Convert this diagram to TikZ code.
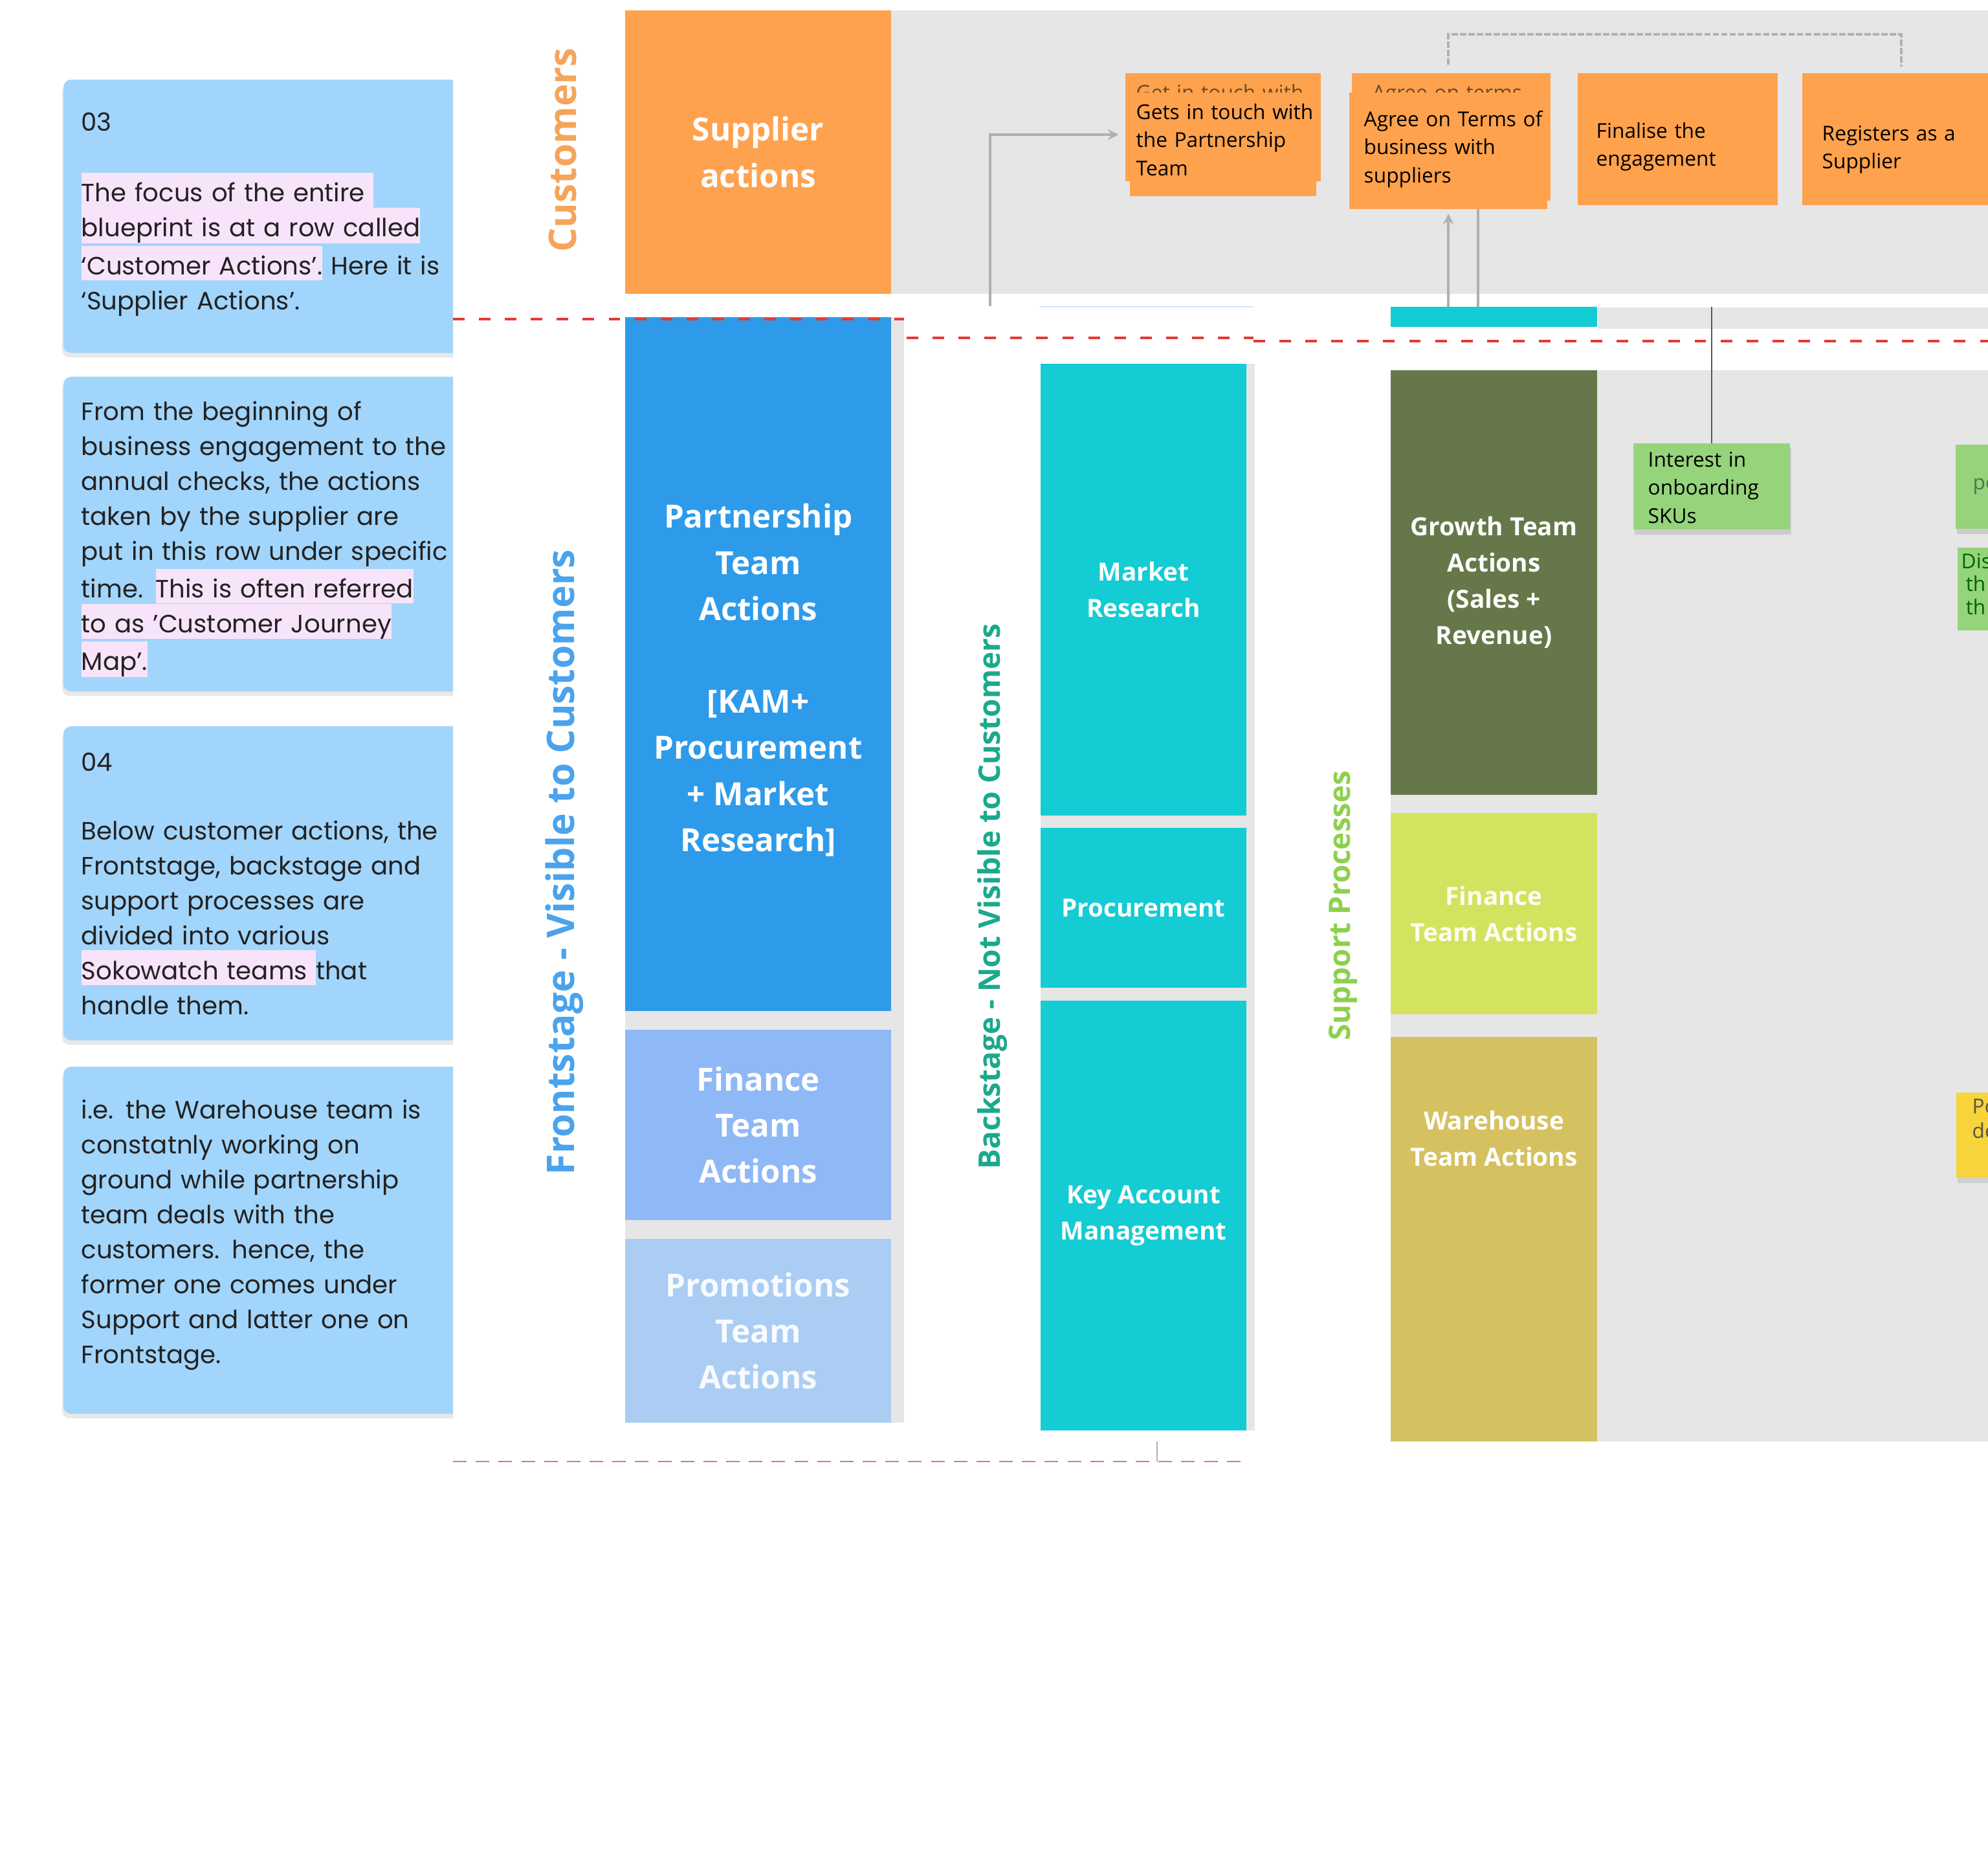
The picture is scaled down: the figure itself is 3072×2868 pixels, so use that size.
\documentclass[tikz,border=0pt]{standalone}
\usepackage{fontspec}
\setmainfont{Open Sans}
\newfontfamily\notefont{Poppins}
\usetikzlibrary{arrows.meta,positioning,calc,shadows}

\definecolor{bandgray}{HTML}{E6E6E6}
\definecolor{supplierorange}{HTML}{FFA24F}
\definecolor{partnerblue}{HTML}{2E9BEA}
\definecolor{financeblue}{HTML}{8FB8F6}
\definecolor{promoblue}{HTML}{ABCDF4}
\definecolor{backteal}{HTML}{14CCD3}
\definecolor{growthgreen}{HTML}{667849}
\definecolor{financelime}{HTML}{D4E35F}
\definecolor{warehousegold}{HTML}{D5C160}
\definecolor{stickyorange}{HTML}{FFA24D}
\definecolor{stickygreen}{HTML}{95D47B}
\definecolor{stickyyellow}{HTML}{F7D43B}
\definecolor{noteblue}{HTML}{A2D5FB}
\definecolor{hlpink}{HTML}{F8E4FA}
\definecolor{notetextcol}{HTML}{222222}
\definecolor{custorange}{HTML}{F5A55B}
\definecolor{frontblue}{HTML}{4AA3EC}
\definecolor{backgreen}{HTML}{1BA98D}
\definecolor{supportgreen}{HTML}{8DD04F}
\definecolor{dashred}{HTML}{E53935}
\definecolor{dashredlight}{HTML}{E57373}
\definecolor{linkgray}{HTML}{B0B0B0}
\definecolor{darklinkgray}{HTML}{5A5A5A}
\definecolor{ghostbrown}{HTML}{6B4A2A}
\definecolor{laneline}{HTML}{D4E3F8}

\newcommand{\hl}[1]{{\setlength{\fboxsep}{0pt}\colorbox{hlpink}{\rule[-2.55pt]{0pt}{15.3pt}#1}}}

\begin{document}
\begin{tikzpicture}[x=0.01cm,y=-0.01cm,>=stealth]
    \tikzstyle{note} = [anchor=north west, fill=noteblue, rounded corners=0.12cm, minimum width=6.5cm, inner sep=0pt, outer sep=0pt, drop shadow={shadow xshift=-0.02cm, shadow yshift=-0.07cm, opacity=0.18}]
    \tikzstyle{notetext} = [anchor=base west, inner sep=0pt, align=left, text width=6.6cm, text=notetextcol, font=\notefont\fontsize{11}{15.36}\selectfont]
    \tikzstyle{lane} = [anchor=north west, inner sep=0pt, outer sep=0pt, align=center, text=white, minimum width=4.11cm, font=\bfseries\fontsize{14}{20.3}\selectfont]
    \tikzstyle{backlane} = [lane, minimum width=3.18cm, fill=backteal, font=\bfseries\fontsize{11}{15.9}\selectfont]
    \tikzstyle{supportlane} = [lane, minimum width=3.19cm, font=\bfseries\fontsize{11}{15.9}\selectfont]
    \tikzstyle{sticky} = [anchor=north west, inner sep=0pt, outer sep=0pt, fill=stickyorange]
    \tikzstyle{stickytext} = [anchor=base west, inner sep=0pt, align=left, text width=3cm, font=\fontsize{9}{12.4}\selectfont]
    \tikzstyle{lanetitle} = [rotate=90, inner sep=0pt, font=\bfseries\fontsize{16.7}{20}\selectfont]
    \tikzstyle{greylink} = [draw=linkgray, line width=1.1pt]
    \tikzstyle{darklink} = [draw=darklinkgray, line width=0.6pt]
    \tikzstyle{bracketlink} = [draw=linkgray, line width=1.1pt, dash pattern=on 2.8pt off 0.9pt]
    \tikzstyle{reddash} = [draw=dashred, line width=1.4pt, dash pattern=on 5.1pt off 6.3pt]
    \tikzstyle{reddashthin} = [draw=dashredlight, line width=0.8pt, dash pattern=on 6pt off 4pt]

    \useasboundingbox[fill=white] (0,0) rectangle (3072,2868);

    % Lane backgrounds
    \fill[bandgray] (966,16) rectangle (3072,454);
    \fill[bandgray] (966,490) rectangle (1397,2198);
    \fill[bandgray] (1608,562) rectangle (1939,2210);
    \fill[bandgray] (2149,572) rectangle (3072,2227);
    \draw[laneline, line width=0.6pt] (1606,474) -- (1937,474);

    % Side notes
    \begin{scope}
        \clip (0,0) rectangle (700,2868);
        \node[note, minimum height=4.22cm] (n03) at (98,123) {};
        \node[note, minimum height=4.86cm] (njourney) at (98,582) {};
        \node[note, minimum height=4.85cm] (n04) at (98,1122) {};
        \node[note, minimum height=5.36cm] (nwarehouse) at (98,1648) {};
    \end{scope}
    \node[notetext] (t03) at ($(n03.north west)+(27,79)$) {03\\[15.9pt]\hl{The focus of the entire }\\\hl{blueprint is at a row called}\\\hl{‘Customer Actions’.} Here it is\\‘Supplier Actions’.};
    \node[notetext] (tjourney) at ($(njourney.north west)+(27,67)$) {From the beginning of\\business engagement to the\\annual checks, the actions\\taken by the supplier are\\put in this row under specific\\time. \hl{This is often referred}\\\hl{to as ’Customer Journey}\\\hl{Map’.}};
    \node[notetext] (t04) at ($(n04.north west)+(27,69)$) {04\\[14.8pt]Below customer actions, the\\Frontstage, backstage and\\support processes are\\divided into various\\\hl{Sokowatch teams }that\\handle them.};
    \node[notetext] (twarehouse) at ($(nwarehouse.north west)+(27,80)$) {i.e. the Warehouse team is\\constatnly working on\\ground while partnership\\team deals with the\\customers. hence, the\\former one comes under\\Support and latter one on\\Frontstage.};

    % Lane titles
    \node[lanetitle, text=custorange] (tcust) at (870,232) {Customers};
    \node[lanetitle, text=frontblue] (tfront) at (872,1332) {Frontstage - Visible to Customers};
    \node[lanetitle, text=backgreen, font=\bfseries\fontsize{13.1}{16}\selectfont] (tback) at (1534,1385) {Backstage - Not Visible to Customers};
    \node[lanetitle, text=supportgreen, font=\bfseries\fontsize{13}{16}\selectfont] (tsupport) at (2075,1399) {Support Processes};

    % Frontstage lanes
    \node[lane, fill=supplierorange, minimum height=4.38cm] (sup) at (966,16) {Supplier\\actions};
    \node[lane, fill=partnerblue, minimum height=10.71cm] (pta) at (966,490) {};
    \node[lane, anchor=center, minimum width=0pt] (ptatxt) at ($(pta.center)+(0,25)$) {Partnership\\Team\\Actions\\[20.3pt]{[KAM+}\\Procurement\\+ Market\\Research{]}};
    \node[lane, fill=financeblue, minimum height=2.94cm] (fta) at (966,1591) {Finance\\Team\\Actions};
    \node[lane, fill=promoblue, text=white!92!promoblue, minimum height=2.84cm] (prta) at (966,1914) {Promotions\\Team\\Actions};

    % Backstage lanes
    \node[backlane, minimum height=6.98cm] (mkt) at (1608,562) {Market\\Research};
    \node[backlane, minimum height=2.47cm] (proc) at (1608,1279) {Procurement};
    \node[backlane, minimum height=6.64cm] (kam) at (1608,1546) {Key Account\\Management};

    % Support lanes
    \node[supportlane, fill=backteal, minimum height=0.31cm] (cyan) at (2149,474) {};
    \node[anchor=north west, inner sep=0pt, fill=bandgray, minimum width=6.04cm, minimum height=0.33cm] (band) at (2468,474) {};
    \node[supportlane, fill=growthgreen, minimum height=6.56cm] (growth) at (2149,572) {Growth Team\\Actions\\(Sales +\\Revenue)};
    \node[supportlane, fill=financelime, text=white!92!financelime, minimum height=3.11cm] (fin2) at (2149,1256) {Finance\\Team Actions};
    \node[supportlane, fill=warehousegold, minimum height=6.25cm] (wh) at (2149,1602) {};
    \node[supportlane, anchor=center, minimum width=0pt] (whtxt) at ($(wh.north)+(0,157)$) {Warehouse\\Team Actions};

    % Supplier action stickies
    \node[sticky, minimum width=3.02cm, minimum height=1.67cm] (getinB) at (1739,113) {};
    \node[stickytext, text=ghostbrown] at ($(getinB.north west)+(16,41)$) {Get in touch with};
    \node[sticky, minimum width=3.07cm, minimum height=1.97cm] (agreeB) at (2089,113) {};
    \node[stickytext, text=ghostbrown] at ($(agreeB.north west)+(31,41)$) {Agree on terms};
    \node[sticky, minimum width=2.88cm, minimum height=1.60cm] (getin) at (1746,143) {};
    \node[sticky, minimum width=3.06cm, minimum height=1.80cm] (agree) at (2085,143) {};
    \node[sticky, minimum width=3.09cm, minimum height=2.04cm] (finalise) at (2438,113) {};
    \node[sticky, minimum width=3.06cm, minimum height=2.04cm] (register) at (2785,113) {};
    \node[stickytext] (tgetin) at ($(getin.north west)+(9,41)$) {Gets in touch with\\the Partnership\\Team};
    \node[stickytext] (tagree) at ($(agree.north west)+(22,52)$) {Agree on Terms of\\business with\\suppliers};
    \node[stickytext] (tfinalise) at ($(finalise.north west)+(28,100)$) {Finalise the\\engagement};
    \node[stickytext] (tregister) at ($(register.north west)+(30,104)$) {Registers as a\\Supplier};

    % Support stickies
    \node[sticky, fill=stickygreen, minimum width=2.42cm, minimum height=1.33cm, drop shadow={shadow xshift=0.02cm, shadow yshift=-0.08cm, opacity=0.25}] (interest) at (2524,685) {};
    \node[stickytext] (tinterest) at ($(interest.north west)+(22,36)$) {Interest in\\onboarding\\SKUs};
    \node[sticky, fill=stickygreen, minimum width=0.6cm, minimum height=1.30cm, drop shadow={shadow xshift=0.02cm, shadow yshift=-0.08cm, opacity=0.25}] (notep) at (3022,687) {};
    \node[stickytext, text=darklinkgray!80!green] at ($(notep.north west)+(26,69)$) {po};
    \node[sticky, fill=stickygreen, minimum width=0.6cm, minimum height=1.28cm] (noted) at (3025,846) {};
    \node[stickytext, text=green!40!black, font=\fontsize{9}{10.2}\selectfont] at ($(noted.north west)+(5,32)$) {Dis\\\hspace{2pt}th\\\hspace{2pt}th};
    \node[sticky, fill=stickyyellow, minimum width=0.6cm, minimum height=1.32cm, drop shadow={shadow xshift=0.02cm, shadow yshift=-0.08cm, opacity=0.2}] (notey) at (3023,1688) {};
    \node[stickytext, text=black!75!yellow, font=\fontsize{9}{10.8}\selectfont] at ($(notey.north west)+(24,32)$) {Po\\de};

    % Edges
    \coordinate (gstart) at (1530,473);
    \coordinate (agreeR) at ([xshift=0.46cm]agree.south);
    \coordinate (agreeTop) at (agree.north |- agreeB.north);
    \coordinate (kamstub) at (1788,2227);
    \coordinate (kamend) at (1788,2258);
    \path[greylink, ->, shorten >=5pt] (gstart) |- ($(getin.west)+(0,-15)$);
    \path[greylink, ->, shorten >=2pt] (agree.south |- cyan.north) -- (agree.south);
    \path[greylink] (agreeR |- cyan.north) -- (agreeR);
    \path[darklink] (interest.north |- band.north) -- (interest.north);
    \path[bracketlink] ($(agreeTop)+(0,-13)$) |- ($(register.north)+(0,-60)$) -- ($(register.north)+(0,-10)$);
    \path[greylink, line width=0.6pt] (kamstub) -- (kamend);

    % Line of visibility
    \draw[reddash] (700,493) -- (1397,493);
    \draw[reddash] (1401,522) -- (1937,522);
    \draw[reddash] (1937,527) -- (3072,527);
    \draw[reddashthin] (700,2258) -- (1923,2258);
\end{tikzpicture}
\end{document}
